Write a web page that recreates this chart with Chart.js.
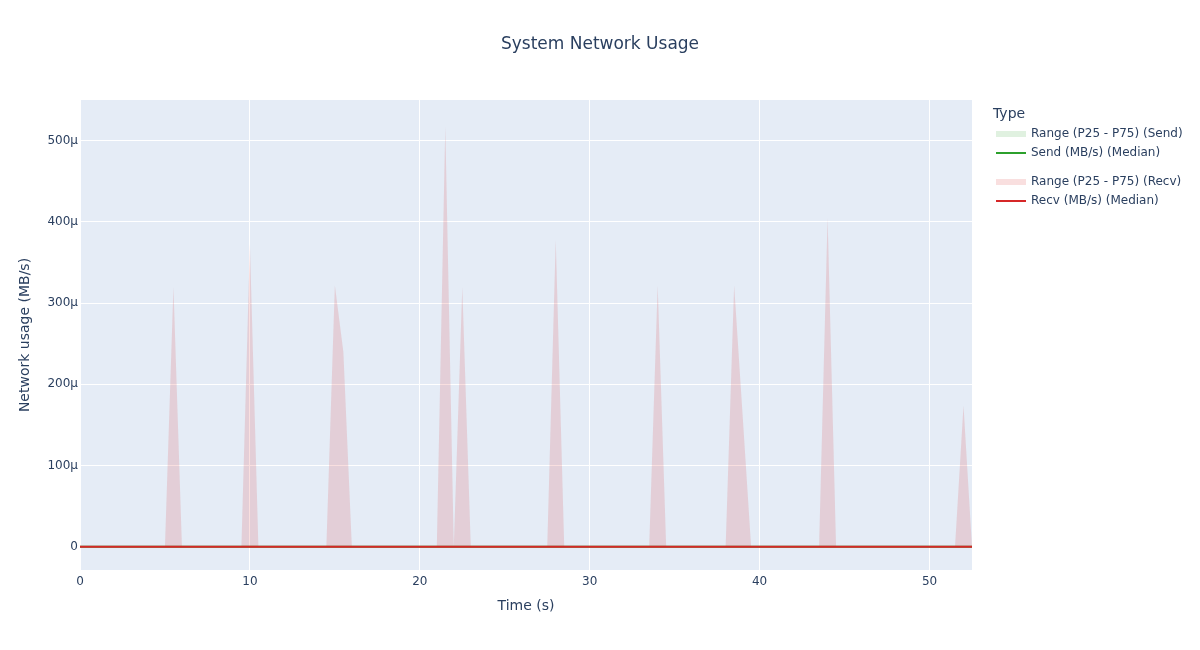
<!DOCTYPE html>
<html>
<head>
<meta charset="utf-8">
<script src="https://cdn.jsdelivr.net/npm/chart.js@4/dist/chart.umd.min.js"></script>
<style>
  html, body { margin: 0; padding: 0; background: #fff; }
  #wrap { width: 1200px; height: 650px; position: relative; }
</style>
</head>
<body>
<div id="wrap"><canvas id="chart" width="1200" height="650"></canvas></div>
<script>
// time points (s)
const times = [0, 5, 5.5, 6, 9.5, 10, 10.5, 14.5, 15, 15.5, 16, 21, 21.5, 22, 22.5, 23,
  27.5, 28, 28.5, 33.5, 34, 34.5, 38, 38.5, 39, 39.5, 43.5, 44, 44.5, 51.5, 52, 52.5];

// Send (MB/s) - flat at zero
const sendP25 = [0, 0, 0, 0, 0, 0, 0, 0, 0, 0, 0, 0, 0, 0, 0, 0,
  0, 0, 0, 0, 0, 0, 0, 0, 0, 0, 0, 0, 0, 0, 0, 0];
const sendP75 = [0, 0, 0, 0, 0, 0, 0, 0, 0, 0, 0, 0, 0, 0, 0, 0,
  0, 0, 0, 0, 0, 0, 0, 0, 0, 0, 0, 0, 0, 0, 0, 0];
const sendMedian = [0, 0, 0, 0, 0, 0, 0, 0, 0, 0, 0, 0, 0, 0, 0, 0,
  0, 0, 0, 0, 0, 0, 0, 0, 0, 0, 0, 0, 0, 0, 0, 0];

// Recv (MB/s)
const recvP25 = [0, 0, 0, 0, 0, 0, 0, 0, 0, 0, 0, 0, 0, 0, 0, 0,
  0, 0, 0, 0, 0, 0, 0, 0, 0, 0, 0, 0, 0, 0, 0, 0];
const recvP75 = [0, 0, 320e-6, 0, 0, 373e-6, 0, 0, 322e-6, 240e-6, 0, 0, 518e-6, 0, 320e-6, 0,
  0, 378e-6, 0, 0, 322e-6, 0, 0, 322e-6, 162e-6, 0, 0, 405e-6, 0, 0, 174e-6, 0];
const recvMedian = [0, 0, 0, 0, 0, 0, 0, 0, 0, 0, 0, 0, 0, 0, 0, 0,
  0, 0, 0, 0, 0, 0, 0, 0, 0, 0, 0, 0, 0, 0, 0, 0];

const xTicks = [0, 10, 20, 30, 40, 50];
const yTicks = [0, 100e-6, 200e-6, 300e-6, 400e-6, 500e-6];

const FONT = '"DejaVu Sans", Verdana, sans-serif';
const TEXT = '#2a3f5f';
const GREEN = 'rgb(44,160,44)';
const RED = 'rgb(214,39,40)';

const pts = (ys) => times.map((t, i) => ({ x: t, y: ys[i] }));

// plot background + title, axis titles, legend
const decor = {
  id: 'decor',
  beforeDraw(chart) {
    const { ctx, chartArea: a } = chart;
    ctx.save();
    ctx.fillStyle = '#e5ecf6';
    ctx.fillRect(a.left, a.top, a.right - a.left, a.bottom - a.top);
    ctx.restore();
  },
  afterDraw(chart) {
    const { ctx, chartArea: a } = chart;
    ctx.save();
    ctx.fillStyle = TEXT;
    ctx.textBaseline = 'middle';

    ctx.font = '17px ' + FONT;
    ctx.textAlign = 'center';
    ctx.fillText('System Network Usage', 600, 45);

    ctx.font = '14px ' + FONT;
    ctx.fillText('Time (s)', (a.left + a.right) / 2, 606);
    ctx.save();
    ctx.translate(25, (a.top + a.bottom) / 2);
    ctx.rotate(-Math.PI / 2);
    ctx.fillText('Network usage (MB/s)', 0, 0);
    ctx.restore();

    // legend
    ctx.textAlign = 'left';
    ctx.font = '14px ' + FONT;
    ctx.fillText('Type', 993, 114);
    const items = [
      { y: 134, label: 'Range (P25 - P75) (Send)', band: 'rgba(44,160,44,0.15)' },
      { y: 153, label: 'Send (MB/s) (Median)', line: GREEN },
      { y: 182, label: 'Range (P25 - P75) (Recv)', band: 'rgba(214,39,40,0.15)' },
      { y: 201, label: 'Recv (MB/s) (Median)', line: RED }
    ];
    ctx.font = '12px ' + FONT;
    items.forEach(it => {
      if (it.band) {
        ctx.fillStyle = it.band;
        ctx.fillRect(996, it.y - 3, 30, 6);
      } else {
        ctx.strokeStyle = it.line;
        ctx.lineWidth = 2;
        ctx.beginPath();
        ctx.moveTo(996, it.y);
        ctx.lineTo(1026, it.y);
        ctx.stroke();
      }
      ctx.fillStyle = TEXT;
      ctx.fillText(it.label, 1031, it.y);
    });
    ctx.restore();
  }
};

new Chart(document.getElementById('chart'), {
  type: 'line',
  data: {
    datasets: [
      { label: 'sendP25', data: pts(sendP25), borderWidth: 0, pointRadius: 0, fill: false, order: 6 },
      { label: 'Range (P25 - P75) (Send)', data: pts(sendP75), borderWidth: 0, pointRadius: 0,
        fill: '-1', backgroundColor: 'rgba(44,160,44,0.15)', order: 5 },
      { label: 'Send (MB/s) (Median)', data: pts(sendMedian), borderColor: GREEN, borderWidth: 2,
        pointRadius: 0, fill: false, order: 4 },
      { label: 'recvP25', data: pts(recvP25), borderWidth: 0, pointRadius: 0, fill: false, order: 3 },
      { label: 'Range (P25 - P75) (Recv)', data: pts(recvP75), borderWidth: 0, pointRadius: 0,
        fill: '-1', backgroundColor: 'rgba(214,39,40,0.15)', order: 2 },
      { label: 'Recv (MB/s) (Median)', data: pts(recvMedian), borderColor: RED, borderWidth: 2,
        pointRadius: 0, fill: false, order: 1 }
    ]
  },
  options: {
    responsive: false,
    animation: false,
    events: [],
    layout: { padding: { left: 0, top: 100, right: 228, bottom: 0 } },
    plugins: {
      legend: { display: false },
      title: { display: false },
      tooltip: { enabled: false }
    },
    scales: {
      x: {
        type: 'linear',
        min: 0,
        max: 52.5,
        afterFit: (s) => { s.height = 80; },
        afterBuildTicks: (s) => { s.ticks = xTicks.map(v => ({ value: v })); },
        grid: { color: '#ffffff', lineWidth: 1, drawTicks: false },
        border: { display: false },
        ticks: { color: TEXT, font: { family: FONT, size: 12 }, padding: 5, maxRotation: 0 }
      },
      y: {
        type: 'linear',
        min: -28.5e-6,
        max: 550e-6,
        afterFit: (s) => { s.width = 80; },
        afterBuildTicks: (s) => { s.ticks = yTicks.map(v => ({ value: v })); },
        grid: { color: '#ffffff', lineWidth: 1, drawTicks: false },
        border: { display: false },
        ticks: {
          color: TEXT, font: { family: FONT, size: 12 }, padding: 2,
          callback: (v) => v === 0 ? '0' : Math.round(v * 1e6) + 'μ'
        }
      }
    }
  },
  plugins: [decor]
});
</script>
</body>
</html>
